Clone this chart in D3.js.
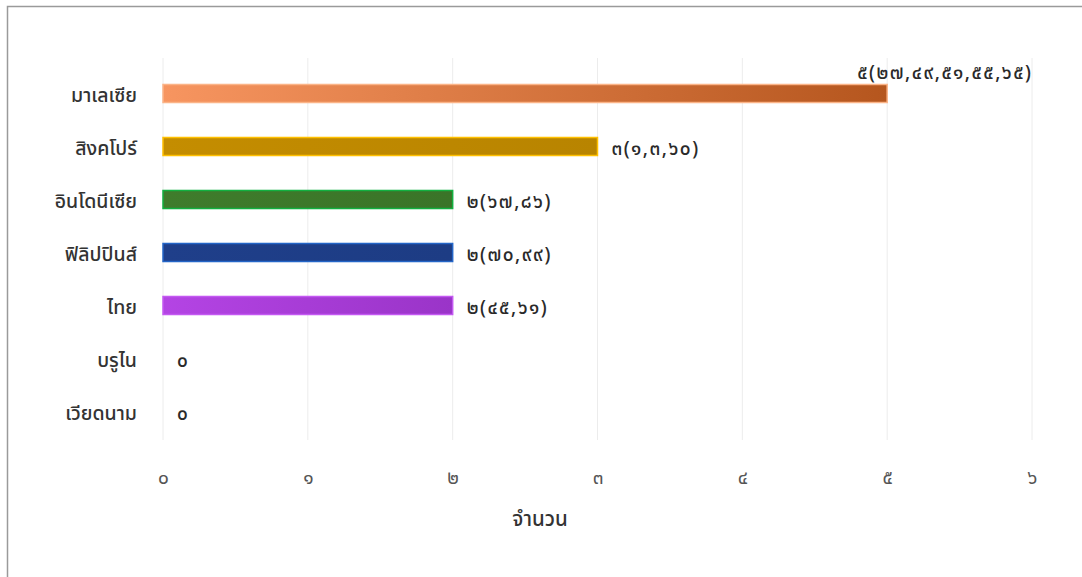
<!DOCTYPE html>
<html>
<head>
<meta charset="utf-8">
<script src="https://cdn.jsdelivr.net/npm/d3@7"></script>
<style>
  html, body { margin: 0; padding: 0; background: #ffffff; }
  svg { display: block; font-family: "Noto Sans Thai", "Noto Sans", "DejaVu Sans", sans-serif; }
</style>
</head>
<body>
<svg id="chart" width="1082" height="577"></svg>
<script>
const categories = ["มาเลเซีย", "สิงคโปร์", "อินโดนีเซีย", "ฟิลิปปินส์", "ไทย", "บรูไน", "เวียดนาม"];
const values = [5, 3, 2, 2, 2, 0, 0];
const valueLabels = ["๕(๒๗,๔๙,๕๑,๕๕,๖๕)", "๓(๑,๓,๖๐)", "๒(๖๗,๘๖)", "๒(๗๐,๙๙)", "๒(๔๕,๖๑)", "๐", "๐"];
const tickValues = [0, 1, 2, 3, 4, 5, 6];
const tickLabels = ["๐", "๑", "๒", "๓", "๔", "๕", "๖"];
const axisTitle = "จำนวน";

const fillStart = ["#f79560", "#c48d00", "#3f7c2c", "#1f3f8a", "#b444e4", "#999", "#999"];
const fillEnd   = ["#b5561e", "#b88400", "#3a7428", "#1d3c84", "#9a34c8", "#999", "#999"];
const strokes   = ["#fbb488", "#ffc000", "#12b040", "#2466c8", "#c458f2", "#999", "#999"];

const svg = d3.select("#chart");

// frame
svg.append("rect").attr("x", 7.5).attr("y", 6.5).attr("width", 1090).attr("height", 600)
  .attr("fill", "none").attr("stroke", "#9a9a9a").attr("stroke-width", 1.5);

const x = d3.scaleLinear().domain([0, 6]).range([163, 1032]);
const y = d3.scaleBand().domain(categories).range([67, 438]).paddingInner(0.66).paddingOuter(0.33);

// gridlines
svg.append("g").selectAll("line").data(tickValues).join("line")
  .attr("x1", d => x(d)).attr("x2", d => x(d))
  .attr("y1", 58).attr("y2", 440)
  .attr("stroke", "#ececec").attr("stroke-width", 1);

// gradients
const defs = svg.append("defs");
categories.forEach((c, i) => {
  const g = defs.append("linearGradient").attr("id", "grad" + i)
    .attr("x1", "0%").attr("x2", "100%").attr("y1", "0%").attr("y2", "0%");
  g.append("stop").attr("offset", "0%").attr("stop-color", fillStart[i]);
  g.append("stop").attr("offset", "100%").attr("stop-color", fillEnd[i]);
});

// bars
svg.append("g").selectAll("rect").data(values).join("rect")
  .attr("x", x(0))
  .attr("y", (d, i) => y(categories[i]))
  .attr("width", d => Math.max(0, x(d) - x(0)))
  .attr("height", y.bandwidth())
  .attr("fill", (d, i) => `url(#grad${i})`)
  .attr("stroke", (d, i) => strokes[i])
  .attr("stroke-width", 1.5)
  .style("display", d => d > 0 ? null : "none");

// category labels (axis)
const yAxis = d3.axisLeft(y).tickSize(0).tickPadding(0);
const ya = svg.append("g").attr("transform", "translate(137,2)").call(yAxis);
ya.select(".domain").remove();
ya.selectAll("text").attr("font-size", 19.5).attr("fill", "#333").attr("font-weight", 500)
  .style("font-family", "'Noto Sans Thai', 'Noto Sans', 'DejaVu Sans', sans-serif");

// value labels
svg.append("g").selectAll("text").data(values).join("text")
  .attr("x", (d, i) => i === 0 ? x(d) - 30 : x(d) + 14)
  .attr("y", (d, i) => i === 0 ? y(categories[i]) - 11 : y(categories[i]) + y.bandwidth() / 2 + 3)
  .attr("dominant-baseline", "middle")
  .attr("font-size", 19).attr("fill", "#2a2a2a").attr("font-weight", 500)
  .attr("letter-spacing", 1.5)
  .text((d, i) => valueLabels[i]);

// x axis
const xAxis = d3.axisBottom(x).tickValues(tickValues).tickSize(0).tickPadding(0)
  .tickFormat((d, i) => tickLabels[i]);
const xa = svg.append("g").attr("transform", "translate(0,470)").call(xAxis);
xa.select(".domain").remove();
xa.selectAll("text").attr("font-size", 19).attr("fill", "#555")
  .style("font-family", "'Noto Sans Thai', 'Noto Sans', 'DejaVu Sans', sans-serif");

// axis title
svg.append("text").attr("x", 540).attr("y", 520).attr("text-anchor", "middle")
  .attr("dominant-baseline", "middle")
  .attr("font-size", 20.5).attr("fill", "#333").attr("font-weight", 500)
  .text(axisTitle);
</script>
</body>
</html>
